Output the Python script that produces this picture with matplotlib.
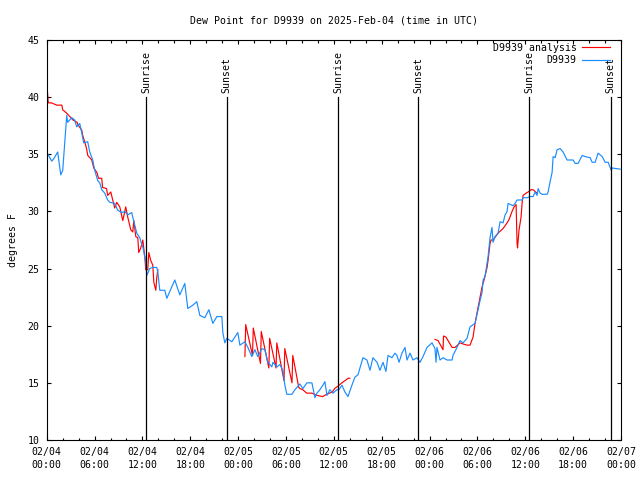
import numpy as np
import matplotlib
matplotlib.use("Agg")
import matplotlib.pyplot as plt
from matplotlib.ticker import MultipleLocator

plt.rcParams['font.family'] = ['DejaVu Sans Mono']
FS = 7.1

# hours since 2025-02-04 00:00 UTC
obs_t = [0.0, 0.63, 0.88, 1.38, 1.76, 2.01, 2.38, 2.51, 2.63, 3.14, 3.51, 3.76, 4.14, 4.39,
         4.64, 5.14, 5.40, 5.77, 6.02, 6.40, 6.65, 6.90, 7.28, 7.65, 7.90, 8.53, 8.91, 9.41,
         9.79, 10.16, 10.66, 10.79, 11.29, 11.67, 11.92, 12.05, 12.42, 12.55, 12.92, 13.30,
         13.80, 13.93, 14.18, 14.81, 15.06, 15.68, 16.06, 16.69, 17.31, 17.69, 18.32, 18.82,
         19.20, 19.82, 20.33, 20.83, 21.33, 21.96, 22.08, 22.33, 22.58, 23.21, 23.59, 23.96,
         24.22, 24.84, 25.22, 25.72, 26.10, 26.47, 26.98, 27.35, 27.73, 28.23, 28.36, 28.86,
         29.23, 29.61, 29.86, 30.11, 30.74, 31.12, 31.74, 32.12, 32.62, 33.25, 33.63, 33.88,
         34.25, 34.63, 34.88, 35.13, 35.51, 35.88, 36.39, 36.64, 37.01, 37.39, 37.77, 38.27,
         38.64, 39.02, 39.65, 40.15, 40.53, 40.90, 41.41, 41.78, 42.16, 42.53, 42.79, 43.29,
         43.66, 43.91, 44.17, 44.54, 44.92, 45.17, 45.55, 45.92, 46.42, 46.80, 47.18, 47.68,
         48.31, 48.68, 48.81, 48.93, 49.31, 49.69, 50.19, 50.82, 50.94, 51.44, 51.82, 52.20,
         52.70, 53.07, 53.70, 54.08, 54.33, 54.58, 54.71, 54.96, 55.21, 55.33, 55.58, 55.83,
         55.96, 56.21, 56.59, 56.84, 57.21, 57.47, 57.72, 57.84, 58.47, 58.72, 58.97, 59.60,
         59.72, 60.23, 60.60, 60.98, 61.23, 61.48, 61.61, 61.86, 62.11, 62.74, 62.86, 63.11,
         63.36, 63.49, 63.74, 63.99, 64.37, 64.74, 65.24, 66.00, 66.25, 66.62, 67.13, 67.50,
         68.13, 68.38, 68.76, 69.13, 69.64, 70.01, 70.39, 70.77, 70.89, 71.89]
obs_v = [35.2, 34.4, 34.6, 35.2, 33.2, 33.6, 37.1, 38.4, 37.8, 38.2, 38.0, 37.4, 37.7, 36.9,
         36.0, 36.1, 35.2, 34.5, 33.6, 32.7, 32.5, 31.9, 31.6, 31.0, 30.8, 30.7, 30.1, 29.9,
         30.0, 29.7, 29.9, 29.5, 28.1, 27.7, 27.1, 26.9, 25.6, 24.4, 25.0, 25.1,
         25.1, 24.7, 23.1, 23.1, 22.4, 23.4, 24.0, 22.7, 23.7, 21.5, 21.8, 22.1,
         20.9, 20.7, 21.4, 20.2, 20.8, 20.8, 19.4, 18.5, 18.9, 18.6, 19.0, 19.4,
         18.3, 18.6, 18.1, 17.3, 17.9, 17.3, 18.0, 17.9, 16.8, 16.4, 16.8, 16.4,
         16.6, 16.1, 14.8, 14.0, 14.0, 14.4, 14.9, 14.5, 15.0, 15.0, 13.7, 14.1,
         14.4, 14.8, 15.1, 13.9, 14.4, 14.1, 14.4, 14.4, 14.8, 14.2, 13.8, 14.8,
         15.5, 15.7, 17.2, 17.0, 16.1, 17.2, 16.8, 16.1, 16.8, 16.0, 17.4, 17.2,
         17.6, 17.4, 16.8, 17.6, 18.1, 17.0, 17.6, 17.0, 17.2, 16.8, 17.3, 18.1,
         18.5, 18.0, 16.8, 18.1, 17.0, 17.2, 17.0, 17.0, 17.4, 18.1, 18.7, 18.5,
         18.9, 19.9, 20.2, 21.4, 22.2, 22.9, 24.0, 24.3, 25.5, 26.0, 27.7, 28.6,
         27.3, 27.8, 28.1, 29.1, 29.0, 29.7, 30.0, 30.7, 30.5, 30.7, 31.0, 31.0,
         31.2, 31.2, 31.3, 31.3, 31.7, 31.4, 32.0, 31.6, 31.5, 31.5, 31.7, 32.6,
         33.4, 34.8, 34.7, 35.4, 35.5, 35.2, 34.5, 34.5, 34.2, 34.2, 34.9, 34.8,
         34.7, 34.3, 34.3, 35.1, 34.8, 34.3, 34.3, 33.6, 33.8, 33.7]

# analysis series (NaN separates the three runs)
ana_t = [0.0, 0.1, 0.2, 0.6, 1.25, 1.9, 2.0, 2.5, 2.9, 3.3, 3.8, 3.9, 4.4, 4.5, 4.8, 5.0,
         5.15, 5.65, 5.9, 6.3, 6.5, 6.9, 7.0, 7.5, 7.65, 8.03, 8.28, 8.53, 8.78, 9.16, 9.54,
         9.91, 10.16, 10.54, 10.79, 10.92, 11.17, 11.42, 11.54, 11.79, 12.05, 12.30, 12.42,
         12.67, 12.80, 13.05, 13.30, 13.43, 13.68, 13.80, 13.93,
         np.nan,
         24.85, 24.95, 25.8, 25.9, 26.8, 26.9, 27.85, 27.95, 28.75, 28.85, 29.75, 29.85,
         30.75, 30.85, 31.6, 31.74, 32.1, 32.6, 33.25, 33.9, 34.6, 35.1, 35.8, 36.1, 36.5,
         37.0, 37.4, 37.8, 38.0,
         np.nan,
         48.68, 49.06, 49.69, 49.75, 50.06, 50.82, 51.19, 51.82, 52.20, 52.70, 53.07, 53.45,
         53.70, 54.08, 54.58, 54.83, 55.21, 55.33, 55.58, 55.71, 55.96, 56.59, 57.21, 57.72,
         57.97, 58.34, 58.60, 58.85, 58.97, 59.03, 59.22, 59.47, 59.60, 59.72, 60.10, 60.35,
         60.73, 60.98, 61.48]
ana_v = [40.0, 40.4, 39.5, 39.5, 39.3, 39.3, 38.9, 38.6, 38.3, 38.0, 37.8, 37.6, 37.1, 36.7,
         36.0, 35.5, 34.9, 34.5, 33.8, 33.4, 32.9, 32.9, 32.1, 32.0, 31.4, 31.7, 31.0, 30.3,
         30.8, 30.4, 29.2, 30.4, 29.5, 28.4, 28.2, 29.2, 27.8, 27.7, 26.4, 26.8, 27.5, 26.0,
         24.9, 24.9, 26.4, 25.7, 25.3, 23.8, 23.1, 24.2, 24.9,
         np.nan,
         17.3, 20.1, 17.4, 19.8, 16.7, 19.5, 16.3, 18.9, 16.3, 18.5, 15.2, 18.0, 15.0, 17.4,
         14.6, 14.5, 14.4, 14.1, 14.1, 13.9, 13.8, 14.0, 14.2, 14.5, 14.7, 15.0, 15.2, 15.4,
         15.4,
         np.nan,
         18.8, 18.7, 17.9, 19.1, 19.0, 18.1, 18.1, 18.5, 18.4, 18.3, 18.3, 19.0, 20.2, 21.6,
         23.4, 24.0, 25.1, 25.7, 27.2, 27.5, 27.5, 28.1, 28.5, 29.0, 29.3, 30.0, 30.4, 30.6,
         27.2, 26.8, 28.4, 29.5, 30.7, 31.4, 31.6, 31.7, 31.9, 31.9, 31.6]

sun_t = [12.5, 22.55, 36.55, 46.6, 60.5, 70.7]
sun_lbl = ["Sunrise", "Sunset", "Sunrise", "Sunset", "Sunrise", "Sunset"]

xtick_pos = [0, 6, 12, 18, 24, 30, 36, 42, 48, 54, 60, 66, 72]
xtick_lbl = ["02/04\n00:00", "02/04\n06:00", "02/04\n12:00", "02/04\n18:00",
             "02/05\n00:00", "02/05\n06:00", "02/05\n12:00", "02/05\n18:00",
             "02/06\n00:00", "02/06\n06:00", "02/06\n12:00", "02/06\n18:00",
             "02/07\n00:00"]

fig = plt.figure(figsize=(6.4, 4.8), dpi=100)
ax = fig.add_axes([46.7/640, 40/480, 574.3/640, 400/480])

ax.plot(ana_t, ana_v, color='#ff0000', lw=0.85, label='D9939 analysis')
ax.plot(obs_t, obs_v, color='#1a8cff', lw=0.85, label='D9939')

for t, l in zip(sun_t, sun_lbl):
    ax.plot([t, t], [10, 40], color='black', lw=0.9)
    ax.text(t, 40.35, l, rotation=90, ha='center', va='bottom', fontsize=FS)

ax.set_xlim(0, 72)
ax.set_ylim(10, 45)
ax.set_xticks(xtick_pos)
ax.set_xticklabels(xtick_lbl, fontsize=FS, linespacing=1.35)
ax.xaxis.set_minor_locator(MultipleLocator(2))
ax.set_yticks(range(10, 46, 5))
ax.tick_params(axis='y', labelsize=FS)
ax.tick_params(which='both', direction='in', top=True, right=True, width=0.8)
ax.tick_params(which='major', length=3.2, pad=5)
ax.tick_params(which='minor', length=1.8)
for s in ax.spines.values():
    s.set_linewidth(0.8)

ax.set_ylabel('degrees F', fontsize=FS, labelpad=7)
ax.set_title('Dew Point for D9939 on 2025-Feb-04 (time in UTC)', fontsize=FS, pad=12)

ax.legend(loc='upper right', bbox_to_anchor=(0.981, 0.993), frameon=False,
          markerfirst=False, fontsize=FS, handlelength=2.8, handletextpad=0.6,
          labelspacing=0.25, borderpad=0, borderaxespad=0)

fig.savefig('out.png', dpi=100)
